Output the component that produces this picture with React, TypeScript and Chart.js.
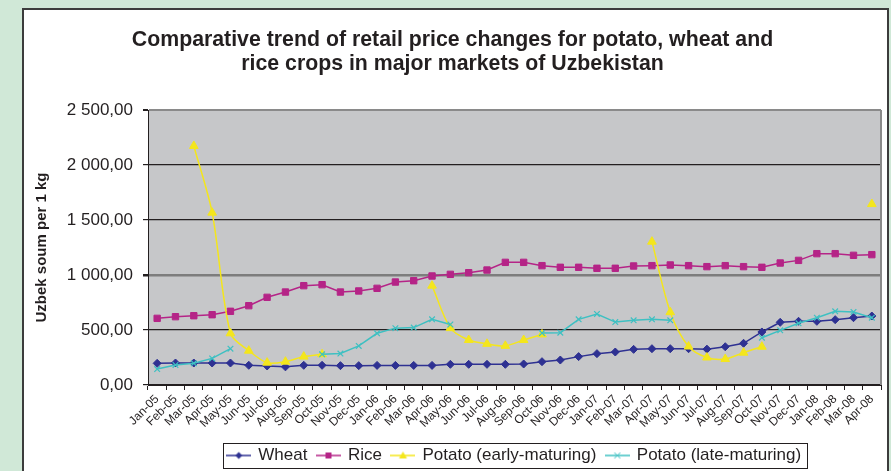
import React, { useEffect, useRef } from 'react';
import { Chart, registerables } from 'chart.js';
Chart.register(...registerables);

const FONT = "'Liberation Sans', Arial, sans-serif";
const INK = '#231f20';

const categories = [
  'Jan-05', 'Feb-05', 'Mar-05', 'Apr-05', 'May-05', 'Jun-05', 'Jul-05', 'Aug-05', 'Sep-05', 'Oct-05', 'Nov-05', 'Dec-05',
  'Jan-06', 'Feb-06', 'Mar-06', 'Apr-06', 'May-06', 'Jun-06', 'Jul-06', 'Aug-06', 'Sep-06', 'Oct-06', 'Nov-06', 'Dec-06',
  'Jan-07', 'Feb-07', 'Mar-07', 'Apr-07', 'May-07', 'Jun-07', 'Jul-07', 'Aug-07', 'Sep-07', 'Oct-07', 'Nov-07', 'Dec-07',
  'Jan-08', 'Feb-08', 'Mar-08', 'Apr-08',
];

const wheat = [197, 200, 200, 200, 200, 179, 173, 165, 179, 179, 176, 176, 178, 178, 178, 178, 188, 188, 188, 188,
  191, 212, 227, 258, 285, 300, 324, 330, 330, 330, 326, 348, 379, 482, 570, 579, 579, 594, 612, 627];

const rice = [606, 621, 630, 639, 670, 721, 797, 845, 903, 912, 845, 855, 879, 936, 948, 991, 1006, 1021, 1045, 1115,
  1115, 1085, 1070, 1070, 1061, 1061, 1082, 1085, 1091, 1085, 1076, 1085, 1076, 1070, 1109, 1133, 1194, 1194, 1179, 1185];

const potatoEarly = [null, null, 2173, 1567, 470, 312, 203, 212, 258, 279, null, null, null, null, null, 903, 517, 409, 374, 356,
  409, 460, null, null, null, null, null, 1303, 662, 350, 250, 236, 294, 348, null, null, null, null, null, 1645];

const potatoLate = [145, 182, 197, 242, 330, null, null, null, null, 279, 286, 355, 470, 517, 522, 597, 550, null, null, null,
  null, 472, 476, 597, 646, 572, 588, 597, 588, null, null, null, null, 430, 497, 561, 612, 670, 664, 612];

const yTickLabels = ['0,00', '500,00', '1 000,00', '1 500,00', '2 000,00', '2 500,00'];
const titleLines = ['Comparative trend of retail price changes for potato, wheat and', 'rice crops in major markets of Uzbekistan'];
const yTitle = 'Uzbek soum per 1 kg';
const seriesNames = ['Wheat', 'Rice', 'Potato (early-maturing)', 'Potato (late-maturing)'];

const COLORS = ['#2e3192', '#b52487', '#f4e61c', '#3ec0c2'];
const STYLES = ['rectRot', 'rect', 'triangle', 'crossRot'];
const RADII = [4, 4.5, 5, 4];

function makeIcon(color: string, style: string): HTMLCanvasElement {
  const c = document.createElement('canvas');
  c.width = 25;
  c.height = 12;
  const g = c.getContext('2d')!;
  g.strokeStyle = color;
  g.fillStyle = color;
  g.lineWidth = 1.5;
  g.beginPath();
  g.moveTo(0, 6);
  g.lineTo(25, 6);
  g.stroke();
  const cx = 12.5, cy = 6;
  g.beginPath();
  if (style === 'rectRot') {
    g.moveTo(cx, cy - 3.5); g.lineTo(cx + 3.5, cy); g.lineTo(cx, cy + 3.5); g.lineTo(cx - 3.5, cy); g.closePath(); g.fill();
  } else if (style === 'rect') {
    g.fillRect(cx - 3, cy - 3, 6, 6);
  } else if (style === 'triangle') {
    g.moveTo(cx, cy - 4); g.lineTo(cx + 4, cy + 3); g.lineTo(cx - 4, cy + 3); g.closePath(); g.fill();
  } else {
    g.lineWidth = 1;
    g.moveTo(cx - 3, cy - 3); g.lineTo(cx + 3, cy + 3); g.moveTo(cx + 3, cy - 3); g.lineTo(cx - 3, cy + 3); g.stroke();
  }
  return c;
}

const framePlugin = {
  id: 'frame',
  beforeDraw(chart: any) {
    const { ctx, chartArea: a } = chart;
    ctx.save();
    ctx.fillStyle = '#c6c7c9';
    ctx.fillRect(a.left, a.top, a.right - a.left, a.bottom - a.top);
    ctx.restore();
  },
  afterDraw(chart: any) {
    const { ctx, chartArea: a } = chart;
    ctx.save();
    ctx.strokeStyle = '#8a8a8a';
    ctx.lineWidth = 2;
    ctx.beginPath();
    ctx.moveTo(a.right, a.top);
    ctx.lineTo(a.right, a.bottom);
    ctx.stroke();
    const boxes = chart.legend?.legendHitBoxes;
    if (boxes && boxes.length) {
      const first = boxes[0];
      const last = boxes[boxes.length - 1];
      const cy = first.top + first.height / 2;
      const l = first.left - 5;
      const r = last.left + last.width + 6;
      ctx.strokeStyle = INK;
      ctx.lineWidth = 1;
      ctx.strokeRect(Math.round(l) + 0.5, Math.round(cy - 12.5) + 0.5, Math.round(r - l), 25);
    }
    ctx.restore();
  },
};

export default function App() {
  const ref = useRef<HTMLCanvasElement>(null);
  useEffect(() => {
    const canvas = ref.current!;
    Chart.defaults.font.family = FONT;
    const series = [wheat, rice, potatoEarly, potatoLate];
    const icons = COLORS.map((c, i) => makeIcon(c, STYLES[i]));
    const chart = new Chart(canvas, {
      type: 'line',
      data: {
        labels: categories,
        datasets: series.map((d, i) => ({
          label: seriesNames[i],
          data: d as any,
          borderColor: COLORS[i],
          backgroundColor: COLORS[i],
          borderWidth: 1.5,
          pointStyle: STYLES[i] as any,
          pointRadius: RADII[i],
          pointBorderWidth: i === 3 ? 1.2 : 1,
          pointBorderColor: COLORS[i],
          pointBackgroundColor: COLORS[i],
          tension: i === 2 ? 0.3 : 0,
          spanGaps: false,
          order: 3 - i,
        })),
      },
      options: {
        animation: false,
        responsive: false,
        maintainAspectRatio: false,
        devicePixelRatio: 1,
        layout: { padding: { left: 0, right: 6, top: 0, bottom: 1 } },
        plugins: {
          tooltip: { enabled: false },
          title: {
            display: true,
            text: titleLines,
            color: INK,
            font: { family: FONT, size: 21.3, weight: 'bold', lineHeight: 24 / 21.3 },
            padding: { top: 18, bottom: 34 },
          },
          legend: {
            position: 'bottom',
            fullSize: false,
            labels: {
              usePointStyle: true,
              pointStyleWidth: 22,
              boxHeight: 12,
              padding: 10,
              color: INK,
              font: { family: FONT, size: 17 },
              generateLabels: () =>
                seriesNames.map((name, i) => ({
                  text: name,
                  pointStyle: icons[i] as any,
                  fillStyle: COLORS[i],
                  strokeStyle: COLORS[i],
                  lineWidth: 1,
                  hidden: false,
                  datasetIndex: i,
                  fontColor: INK,
                })),
            },
          },
        },
        scales: {
          x: {
            type: 'category',
            offset: true,
            grid: { offset: true, drawOnChartArea: false, drawTicks: true, tickLength: 5, tickColor: INK },
            border: { display: true, color: INK, width: 1 },
            ticks: {
              autoSkip: false,
              minRotation: 45,
              maxRotation: 45,
              padding: 2,
              color: INK,
              font: { family: FONT, size: 12 },
            },
            afterFit: (s: any) => { s.height = 52; },
          },
          y: {
            min: 0,
            max: 2500,
            ticks: {
              stepSize: 500,
              padding: 10,
              color: INK,
              font: { family: FONT, size: 17 },
              callback: (v: any) => yTickLabels[Math.round(Number(v) / 500)],
            },
            grid: {
              color: (c: any) => {
                const v = c.tick ? c.tick.value : 0;
                if (v === 1000) return '#7d7d7d';
                if (v === 2500) return '#8a8a8a';
                return INK;
              },
              lineWidth: (c: any) => {
                const v = c.tick ? c.tick.value : 0;
                if (v === 1000) return 2.5;
                if (v === 2500) return 2;
                return 1.2;
              },
              tickLength: 5,
              tickColor: INK,
            },
            border: { display: true, color: INK, width: 1 },
            title: {
              display: true,
              text: yTitle,
              color: INK,
              font: { family: FONT, size: 15, weight: 'bold' },
              padding: { top: 9, bottom: 0 },
            },
            afterFit: (s: any) => { s.width = 124; },
          },
        },
      },
      plugins: [framePlugin],
    } as any);
    return () => chart.destroy();
  }, []);

  return (
    <div style={{ position: 'fixed', left: 0, top: 0, width: 891, height: 471, background: '#d0e8d7', overflow: 'hidden' }}>
      <div style={{ position: 'absolute', left: 22, top: 8, width: 863, height: 470, border: '2px solid #3c3c3c', background: '#ffffff' }}>
        <canvas ref={ref} width={863} height={465} style={{ display: 'block', width: 863, height: 465 }} />
      </div>
    </div>
  );
}
